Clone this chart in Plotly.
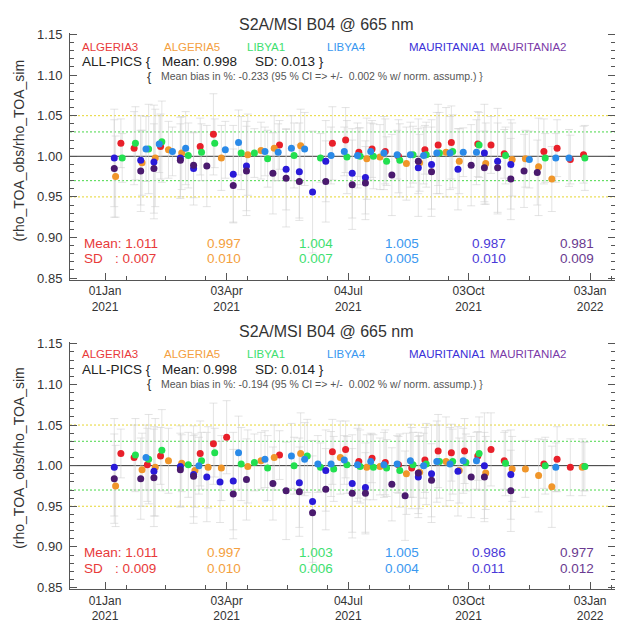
import pandas as pd
import plotly.graph_objects as go

# ---------------- data ----------------
START = "2021-01-01"
SITES = ["ALGERIA3", "ALGERIA5", "LIBYA1", "LIBYA4", "MAURITANIA1", "MAURITANIA2"]
TITLE = "S2A/MSI B04 @ 665 nm"
YLABEL = "(rho_TOA_obs/rho_TOA_sim"
TICK_DAYS = [0, 92, 184, 275, 367]
TICK_DM = ["01Jan", "03Apr", "04Jul", "03Oct", "03Jan"]
TICK_YEAR = ["2021", "2021", "2021", "2021", "2022"]
MINOR_DAYS = [16, 46, 76, 108, 138, 168, 200, 230, 260, 291, 321, 351, 383]
Y_TICKS = [0.85, 0.90, 0.95, 1.00, 1.05, 1.10, 1.15]
REF_VALUES = [1.05, 0.95, 1.03, 0.97, 1.00]

# ---- top panel (days since 01 Jan 2021, ratio, uncertainty) ----
ALG3_A_DAYS = [12, 22, 42, 72, 82, 132, 172, 182, 192, 202, 212, 222, 242, 252, 262, 282, 292, 302, 332, 342, 352, 362]
ALG3_A_VALS = [1.016, 1.010, 1.012, 1.012, 1.027, 1.014, 1.016, 1.020, 1.005, 1.009, 1.006, 1.000, 1.008, 1.014, 1.017, 1.015, 1.014, 1.003, 1.006, 1.010, 0.996, 1.002]
ALG3_A_ERR = [0.030, 0.045, 0.040, 0.035, 0.050, 0.030, 0.045, 0.040, 0.030, 0.035, 0.040, 0.045, 0.030, 0.050, 0.045, 0.040, 0.035, 0.030, 0.040, 0.035, 0.030, 0.035]

ALG5_A_DAYS = [8, 28, 38, 48, 58, 88, 108, 118, 128, 148, 198, 208, 228, 238, 258, 268, 288, 308, 318, 328, 338]
ALG5_A_VALS = [0.975, 0.992, 0.998, 1.008, 1.004, 0.998, 1.002, 1.007, 1.010, 1.013, 0.997, 0.999, 0.991, 0.992, 1.005, 0.994, 0.991, 0.996, 0.997, 0.987, 0.972]
ALG5_A_ERR = [0.050, 0.040, 0.060, 0.035, 0.045, 0.040, 0.050, 0.035, 0.040, 0.045, 0.050, 0.040, 0.045, 0.035, 0.055, 0.040, 0.050, 0.045, 0.035, 0.060, 0.040]

LIB1_A_DAYS = [13, 23, 33, 43, 63, 73, 83, 103, 113, 123, 143, 163, 183, 193, 203, 213, 223, 233, 243, 253, 263, 283, 303, 333, 363]
LIB1_A_VALS = [0.998, 1.016, 1.009, 1.018, 1.001, 1.005, 1.016, 1.004, 1.004, 0.997, 1.001, 0.998, 0.999, 1.000, 1.000, 0.994, 0.995, 1.002, 1.002, 1.004, 1.006, 1.014, 1.001, 0.998, 0.998]
LIB1_A_ERR = [0.030, 0.045, 0.055, 0.050, 0.040, 0.035, 0.030, 0.045, 0.030, 0.035, 0.040, 0.030, 0.045, 0.035, 0.040, 0.030, 0.045, 0.035, 0.040, 0.050, 0.045, 0.040, 0.035, 0.030, 0.040]

LIB4_A_DAYS = [31, 41, 51, 61, 91, 101, 121, 131, 141, 151, 171, 181, 191, 201, 211, 221, 231, 241, 251, 261, 271, 281, 321, 341, 351]
LIB4_A_VALS = [1.009, 1.015, 1.006, 1.010, 1.008, 1.017, 1.006, 1.005, 1.010, 1.009, 1.001, 1.006, 1.001, 1.006, 1.004, 1.002, 1.002, 1.001, 1.004, 1.004, 1.005, 1.005, 0.996, 0.998, 0.998]
LIB4_A_ERR = [0.040, 0.035, 0.030, 0.045, 0.035, 0.040, 0.030, 0.035, 0.040, 0.045, 0.035, 0.030, 0.040, 0.035, 0.045, 0.030, 0.040, 0.035, 0.050, 0.045, 0.030, 0.040, 0.035, 0.030, 0.035]

MAU1_A_DAYS = [7, 27, 37, 57, 67, 97, 107, 137, 147, 157, 167, 187, 197, 237, 247, 267, 287, 297, 307]
MAU1_A_VALS = [0.998, 0.995, 0.993, 0.998, 0.985, 0.978, 0.988, 0.984, 0.981, 0.956, 0.994, 0.979, 0.974, 0.986, 0.990, 0.984, 1.004, 0.994, 0.990]
MAU1_A_ERR = [0.060, 0.055, 0.070, 0.050, 0.045, 0.060, 0.055, 0.050, 0.060, 0.075, 0.050, 0.055, 0.045, 0.060, 0.055, 0.050, 0.060, 0.065, 0.055]

MAU2_A_DAYS = [7, 27, 37, 57, 67, 77, 97, 107, 127, 137, 147, 167, 187, 197, 217, 237, 247, 277, 287, 297, 307, 317, 327]
MAU2_A_VALS = [0.985, 0.982, 0.985, 0.995, 0.989, 0.988, 0.964, 0.982, 0.979, 0.973, 0.969, 0.969, 0.965, 0.967, 0.977, 0.994, 0.981, 0.989, 0.986, 0.986, 0.972, 0.982, 0.980]
MAU2_A_ERR = [0.060, 0.050, 0.055, 0.045, 0.040, 0.050, 0.045, 0.055, 0.050, 0.060, 0.045, 0.050, 0.055, 0.045, 0.050, 0.040, 0.055, 0.050, 0.045, 0.055, 0.050, 0.045, 0.040]

# ---- bottom panel ----
ALG3_B_DAYS = [12, 22, 32, 42, 72, 82, 92, 132, 172, 182, 192, 202, 212, 222, 232, 242, 252, 262, 272, 282, 292, 302, 332, 342, 352, 362]
ALG3_B_VALS = [1.015, 1.010, 1.001, 1.012, 1.015, 1.027, 1.035, 1.013, 1.017, 1.020, 1.005, 1.009, 1.004, 1.001, 0.997, 1.007, 1.018, 1.016, 1.018, 1.012, 1.020, 1.006, 1.002, 1.008, 0.998, 0.999]
ALG3_B_ERR = [0.030, 0.040, 0.045, 0.035, 0.040, 0.050, 0.045, 0.030, 0.040, 0.035, 0.045, 0.030, 0.040, 0.035, 0.050, 0.040, 0.045, 0.035, 0.040, 0.030, 0.045, 0.035, 0.030, 0.040, 0.035, 0.030]

ALG5_B_DAYS = [8, 28, 38, 48, 58, 68, 78, 88, 108, 118, 128, 148, 178, 198, 208, 228, 238, 258, 268, 288, 308, 318, 328, 338, 361]
ALG5_B_VALS = [0.975, 0.995, 0.998, 1.006, 1.003, 0.994, 0.998, 0.997, 0.999, 1.006, 1.010, 1.015, 1.010, 0.998, 0.999, 0.990, 0.992, 1.005, 0.994, 0.991, 0.996, 0.996, 0.988, 0.974, 0.998]
ALG5_B_ERR = [0.050, 0.045, 0.060, 0.040, 0.035, 0.045, 0.050, 0.040, 0.045, 0.035, 0.040, 0.050, 0.045, 0.040, 0.035, 0.050, 0.045, 0.055, 0.040, 0.045, 0.040, 0.035, 0.045, 0.050, 0.035]

LIB1_B_DAYS = [23, 33, 43, 63, 73, 83, 103, 113, 123, 143, 153, 163, 173, 183, 193, 203, 213, 223, 233, 243, 253, 263, 273, 283, 303, 333, 363]
LIB1_B_VALS = [1.013, 1.008, 1.019, 1.001, 1.006, 1.016, 1.002, 1.004, 0.997, 1.000, 1.012, 0.998, 0.996, 1.001, 0.999, 0.998, 0.997, 0.994, 1.001, 1.002, 1.005, 1.005, 1.004, 1.015, 1.003, 1.000, 0.999]
LIB1_B_ERR = [0.045, 0.055, 0.050, 0.040, 0.035, 0.030, 0.045, 0.035, 0.040, 0.035, 0.045, 0.030, 0.040, 0.035, 0.045, 0.040, 0.035, 0.045, 0.040, 0.050, 0.045, 0.040, 0.035, 0.045, 0.040, 0.035, 0.030]

LIB4_B_DAYS = [31, 71, 101, 121, 141, 151, 161, 171, 181, 191, 201, 211, 221, 231, 241, 251, 261, 271, 281, 341]
LIB4_B_VALS = [1.010, 1.000, 1.016, 1.008, 1.012, 1.008, 1.002, 1.002, 1.007, 1.001, 1.005, 1.001, 1.002, 1.006, 1.000, 1.005, 1.002, 1.006, 1.006, 0.998]
LIB4_B_ERR = [0.040, 0.035, 0.045, 0.035, 0.040, 0.045, 0.035, 0.040, 0.030, 0.045, 0.035, 0.040, 0.035, 0.045, 0.040, 0.050, 0.045, 0.040, 0.035, 0.030]

MAU1_B_DAYS = [7, 37, 57, 67, 77, 87, 97, 147, 157, 167, 187, 197, 237, 247, 267, 287, 307]
MAU1_B_VALS = [0.998, 0.993, 0.999, 0.989, 0.986, 0.980, 0.981, 0.979, 0.956, 0.994, 0.978, 0.973, 0.986, 0.990, 0.993, 1.000, 0.989]
MAU1_B_ERR = [0.060, 0.055, 0.050, 0.060, 0.055, 0.050, 0.060, 0.055, 0.075, 0.050, 0.060, 0.055, 0.050, 0.060, 0.055, 0.065, 0.055]

MAU2_B_DAYS = [7, 27, 37, 57, 67, 97, 107, 127, 137, 147, 157, 167, 187, 197, 217, 227, 237, 247, 277, 287, 307]
MAU2_B_VALS = [0.984, 0.984, 0.985, 0.995, 0.987, 0.965, 0.983, 0.978, 0.969, 0.968, 0.942, 0.971, 0.966, 0.966, 0.977, 0.963, 0.991, 0.982, 0.986, 0.986, 0.969]
MAU2_B_ERR = [0.055, 0.050, 0.060, 0.045, 0.050, 0.055, 0.050, 0.045, 0.060, 0.055, 0.070, 0.050, 0.055, 0.050, 0.045, 0.055, 0.050, 0.045, 0.050, 0.055, 0.050]

# statistics printed on the chart
ALL_MEAN = ["0.998", "0.998"]
ALL_SD = ["0.013", "0.014"]
BIAS_PCT = ["-0.233", "-0.194"]
BIAS_CI = ["0.002", "0.002"]
SITE_MEAN_A = ["1.011", "0.997", "1.004", "1.005", "0.987", "0.981"]
SITE_SD_A = ["0.007", "0.010", "0.007", "0.005", "0.010", "0.009"]
SITE_MEAN_B = ["1.011", "0.997", "1.003", "1.005", "0.986", "0.977"]
SITE_SD_B = ["0.009", "0.010", "0.006", "0.004", "0.011", "0.012"]

# ---------------- style ----------------
W, H = 619, 623
FONT = "Liberation Sans, Arial, sans-serif"
MARKER_COLORS = ["#e8202a", "#f0962a", "#22e050", "#2a8ae8", "#2a1ad8", "#4a1a6e"]
TEXT_COLORS = ["#e83a3a", "#f4a040", "#3ee070", "#3a98f0", "#3a30d8", "#7a3aa8"]
STAT_COLORS = ["#e83a3a", "#f4a040", "#3ee070", "#3a98f0", "#4a3ad8", "#6a3a90"]
REF_STYLES = [("#e6d630", "2px,2px"), ("#e6d630", "2px,2px"), ("#4ad84a", "2px,2px"),
              ("#4ad84a", "2px,2px"), ("#333333", "solid")]
AXIS_COLOR = "#555555"
BAR_COLOR = "rgba(205,205,205,0.55)"

panels = [
    dict(days=[ALG3_A_DAYS, ALG5_A_DAYS, LIB1_A_DAYS, LIB4_A_DAYS, MAU1_A_DAYS, MAU2_A_DAYS],
         vals=[ALG3_A_VALS, ALG5_A_VALS, LIB1_A_VALS, LIB4_A_VALS, MAU1_A_VALS, MAU2_A_VALS],
         errs=[ALG3_A_ERR, ALG5_A_ERR, LIB1_A_ERR, LIB4_A_ERR, MAU1_A_ERR, MAU2_A_ERR],
         means=SITE_MEAN_A, sds=SITE_SD_A),
    dict(days=[ALG3_B_DAYS, ALG5_B_DAYS, LIB1_B_DAYS, LIB4_B_DAYS, MAU1_B_DAYS, MAU2_B_DAYS],
         vals=[ALG3_B_VALS, ALG5_B_VALS, LIB1_B_VALS, LIB4_B_VALS, MAU1_B_VALS, MAU2_B_VALS],
         errs=[ALG3_B_ERR, ALG5_B_ERR, LIB1_B_ERR, LIB4_B_ERR, MAU1_B_ERR, MAU2_B_ERR],
         means=SITE_MEAN_B, sds=SITE_SD_B),
]

t0 = pd.Timestamp(START)


def to_dates(days):
    return [(t0 + pd.Timedelta(days=d)).strftime("%Y-%m-%d") for d in days]


def px(x):
    return x / W


def py(y):
    return 1 - y / H


X_RANGE = [(t0 + pd.Timedelta(days=-26.5)).isoformat(), (t0 + pd.Timedelta(days=385.8)).isoformat()]
Y_RANGE = [0.848, 1.152]
PLOT_X = (70, 615)
PLOT_Y = [(27.5, 280.5), (344.5, 597.5)]
TEXT_OFF = [0, 315]

tickvals = to_dates(TICK_DAYS)
minorvals = to_dates(MINOR_DAYS)
ticktext = [dm + "<br>" + yr for dm, yr in zip(TICK_DM, TICK_YEAR)]

fig = go.Figure()
axis_names = [("x", "y"), ("x2", "y2")]

for p, panel in enumerate(panels):
    xa, ya = axis_names[p]
    for s in range(6):
        fig.add_trace(go.Scatter(
            x=to_dates(panel["days"][s]), y=panel["vals"][s], mode="markers",
            marker=dict(size=1, color="rgba(0,0,0,0)"),
            error_y=dict(type="data", array=panel["errs"][s], color=BAR_COLOR,
                         thickness=1, width=4),
            xaxis=xa, yaxis=ya, showlegend=False, hoverinfo="skip"))
    for s in range(6):
        fig.add_trace(go.Scatter(
            x=to_dates(panel["days"][s]), y=panel["vals"][s], mode="markers",
            marker=dict(size=7, color=MARKER_COLORS[s], line=dict(width=0)),
            name=SITES[s], xaxis=xa, yaxis=ya, showlegend=False))
    # empty helper trace so the right-hand tick axis gets drawn
    fig.add_trace(go.Scatter(x=tickvals, y=[None] * len(tickvals), mode="markers",
                             xaxis=xa, yaxis="y" + str(3 + p), showlegend=False,
                             hoverinfo="skip"))

layout = dict(
    width=W, height=H, margin=dict(l=0, r=0, t=0, b=0),
    paper_bgcolor="white", plot_bgcolor="white",
    font=dict(family=FONT, color="#333333"),
    showlegend=False,
)

for p in range(2):
    top, bot = PLOT_Y[p]
    xdom = [px(PLOT_X[0]), px(PLOT_X[1])]
    ydom = [py(bot), py(top)]
    sx = "" if p == 0 else "2"
    sy = "" if p == 0 else "2"
    layout["xaxis" + sx] = dict(
        domain=xdom, anchor="y" + sy, type="date", range=X_RANGE,
        tickmode="array", tickvals=tickvals, ticktext=ticktext,
        ticks="inside", ticklen=7, tickcolor=AXIS_COLOR, tickwidth=1,
        showline=True, linecolor=AXIS_COLOR, linewidth=1,
        showgrid=False, zeroline=False, ticklabelstandoff=0,
        tickfont=dict(size=12, color="#333333"),
        minor=dict(tickmode="array", tickvals=minorvals, ticks="inside", ticklen=4,
                   tickcolor=AXIS_COLOR, showgrid=False),
    )
    layout["yaxis" + sy] = dict(
        domain=ydom, anchor="x" + sx, range=Y_RANGE,
        tickmode="array", tickvals=Y_TICKS, ticktext=["%.2f" % v for v in Y_TICKS],
        ticks="inside", ticklen=7, tickcolor=AXIS_COLOR, tickwidth=1,
        showline=True, linecolor=AXIS_COLOR, linewidth=1,
        showgrid=False, zeroline=False, ticklabelstandoff=4,
        tickfont=dict(size=13, color="#333333"),
        minor=dict(dtick=0.01, tick0=0.85, ticks="inside", ticklen=4,
                   tickcolor=AXIS_COLOR, showgrid=False),
    )
    layout["yaxis" + str(3 + p)] = dict(
        overlaying="y" + sy, anchor="x" + sx, side="right", range=Y_RANGE,
        tickmode="array", tickvals=Y_TICKS, showticklabels=False,
        ticks="inside", ticklen=7, tickcolor=AXIS_COLOR,
        showline=False, showgrid=False, zeroline=False,
        minor=dict(dtick=0.01, tick0=0.85, ticks="inside", ticklen=4,
                   tickcolor=AXIS_COLOR, showgrid=False),
    )

shapes = []
for p in range(2):
    sx = "x" if p == 0 else "x2"
    sy = "y" if p == 0 else "y2"
    for v, (col, dash) in zip(REF_VALUES, REF_STYLES):
        shapes.append(dict(type="line", xref=sx + " domain", yref=sy, x0=0, x1=1, y0=v, y1=v,
                           line=dict(color=col, width=1, dash=dash), layer="below"))
layout["shapes"] = shapes

ann = []
LEG_X = [80, 162, 245, 325, 407, 488]
STAT_X = [205, 297, 383, 470, 558]
for p in range(2):
    o = TEXT_OFF[p]
    ann.append(dict(text=TITLE, x=px(326), y=py(19 + o), xref="paper", yref="paper",
                    xanchor="center", yanchor="middle", showarrow=False,
                    font=dict(size=16, color="#333333")))
    for s in range(6):
        ann.append(dict(text=SITES[s], x=px(LEG_X[s]), y=py(42 + o), xref="paper", yref="paper",
                        xanchor="left", yanchor="middle", showarrow=False,
                        font=dict(size=11.5, color=TEXT_COLORS[s])))
    ann.append(dict(text="ALL-PICS {", x=px(80), y=py(57 + o), xref="paper", yref="paper",
                    xanchor="left", yanchor="middle", showarrow=False,
                    font=dict(size=13.5, color="#222222")))
    ann.append(dict(text="Mean: " + ALL_MEAN[p], x=px(160), y=py(57 + o), xref="paper", yref="paper",
                    xanchor="left", yanchor="middle", showarrow=False,
                    font=dict(size=13.5, color="#222222")))
    ann.append(dict(text="SD: " + ALL_SD[p] + " }", x=px(253), y=py(57 + o), xref="paper", yref="paper",
                    xanchor="left", yanchor="middle", showarrow=False,
                    font=dict(size=13.5, color="#222222")))
    ann.append(dict(text="{", x=px(145), y=py(72 + o), xref="paper", yref="paper",
                    xanchor="left", yanchor="middle", showarrow=False,
                    font=dict(size=13, color="#333333")))
    ann.append(dict(text="Mean bias in %: " + BIAS_PCT[p] + " (95 % CI => +/-  " + BIAS_CI[p]
                    + " % w/ norm. assump.) }",
                    x=px(159), y=py(72 + o), xref="paper", yref="paper",
                    xanchor="left", yanchor="middle", showarrow=False,
                    font=dict(size=10.5, color="#555555")))
    ann.append(dict(text=YLABEL, x=px(19), y=py(148 + o), xref="paper", yref="paper",
                    xanchor="center", yanchor="middle", textangle=-90, showarrow=False,
                    font=dict(size=14, color="#333333")))
    means = panels[p]["means"]
    sds = panels[p]["sds"]
    ym = 243 + (0 if p == 0 else 317)
    ys = 259 + (0 if p == 0 else 317)
    ann.append(dict(text="Mean: " + means[0], x=px(82), y=py(ym), xref="paper", yref="paper",
                    xanchor="left", yanchor="middle", showarrow=False,
                    font=dict(size=13.5, color=STAT_COLORS[0])))
    ann.append(dict(text="SD", x=px(82), y=py(ys), xref="paper", yref="paper",
                    xanchor="left", yanchor="middle", showarrow=False,
                    font=dict(size=13.5, color=STAT_COLORS[0])))
    ann.append(dict(text=": " + sds[0], x=px(158), y=py(ys), xref="paper", yref="paper",
                    xanchor="right", yanchor="middle", showarrow=False,
                    font=dict(size=13.5, color=STAT_COLORS[0])))
    for s in range(1, 6):
        ann.append(dict(text=means[s], x=px(STAT_X[s - 1]), y=py(ym), xref="paper", yref="paper",
                        xanchor="left", yanchor="middle", showarrow=False,
                        font=dict(size=13.5, color=STAT_COLORS[s])))
        ann.append(dict(text=sds[s], x=px(STAT_X[s - 1]), y=py(ys), xref="paper", yref="paper",
                        xanchor="left", yanchor="middle", showarrow=False,
                        font=dict(size=13.5, color=STAT_COLORS[s])))
layout["annotations"] = ann

fig.update_layout(**layout)
fig.write_html("out.html")
